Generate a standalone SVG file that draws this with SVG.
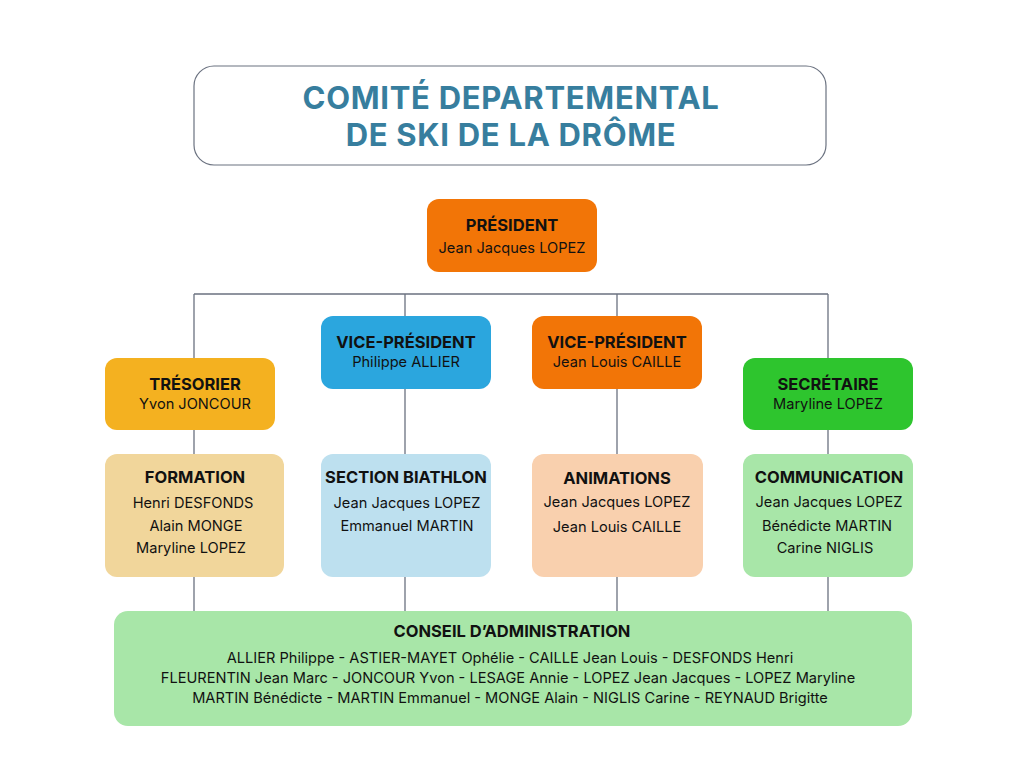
<svg xmlns="http://www.w3.org/2000/svg" width="1024" height="768" viewBox="0 0 1024 768">
<style>
.t{font-family:Inter,"Liberation Sans",sans-serif;fill:#111;text-anchor:middle}
.h{font-weight:700;font-size:16.5px}
.n{font-size:14.6px}
.ttl{font-family:Inter,"Liberation Sans",sans-serif;font-weight:700;font-size:31px;letter-spacing:0.7px;fill:#377e9e;text-anchor:middle}
.c{font-family:Inter,"Liberation Sans",sans-serif;fill:#111;text-anchor:middle;font-size:14.6px}
.ch{font-weight:700;font-size:16.5px}
.ln{stroke:#6b7280;stroke-width:1.3;fill:none}
</style>
<rect width="1024" height="768" fill="#fff"/>
<g id="title">
<rect x="194" y="66" width="632" height="99" rx="20" fill="#fff" stroke="#6b7280" stroke-width="1.2"/>
<text class="ttl" x="511" y="109">COMITÉ DEPARTEMENTAL</text>
<text class="ttl" x="511" y="146">DE SKI DE LA DRÔME</text>
</g>
<g id="connectors">
<path class="ln" d="M194 294H828M194 294V358M405 294V316M617 294V316M828 294V358M194 430V454M405 389V454M617 389V454M828 430V454M194 577V612M405 577V612M617 577V612M828 577V612"/>
</g>
<g id="president">
<rect x="427" y="199" width="170" height="73" rx="12" fill="#f27507"/>
<text class="t h" x="512" y="231">PRÉSIDENT</text>
<text class="t n" x="512" y="253">Jean Jacques LOPEZ</text>
</g>
<g id="tresorier">
<rect x="105" y="358" width="170" height="72" rx="12" fill="#f4b120"/>
<text class="t h" x="195" y="390">TRÉSORIER</text>
<text class="t n" x="195" y="409">Yvon JONCOUR</text>
</g>
<g id="vp1">
<rect x="321" y="316" width="170" height="73" rx="12" fill="#2ba6de"/>
<text class="t h" x="406" y="348">VICE-PRÉSIDENT</text>
<text class="t n" x="406" y="367">Philippe ALLIER</text>
</g>
<g id="vp2">
<rect x="532" y="316" width="170" height="73" rx="12" fill="#f27507"/>
<text class="t h" x="617" y="348">VICE-PRÉSIDENT</text>
<text class="t n" x="617" y="367">Jean Louis CAILLE</text>
</g>
<g id="secretaire">
<rect x="743" y="358" width="170" height="72" rx="12" fill="#2ec52e"/>
<text class="t h" x="828" y="390">SECRÉTAIRE</text>
<text class="t n" x="828" y="409">Maryline LOPEZ</text>
</g>
<g id="formation">
<rect x="105" y="454" width="179" height="123" rx="12" fill="#f1d69b"/>
<text class="t h" x="195" y="483">FORMATION</text>
<text class="t n" x="193" y="508">Henri DESFONDS</text>
<text class="t n" x="196" y="531">Alain MONGE</text>
<text class="t n" x="191" y="553">Maryline LOPEZ</text>
</g>
<g id="biathlon">
<rect x="321" y="454" width="170" height="123" rx="12" fill="#bde0ef"/>
<text class="t h" x="406" y="483">SECTION BIATHLON</text>
<text class="t n" x="407" y="508">Jean Jacques LOPEZ</text>
<text class="t n" x="407" y="531">Emmanuel MARTIN</text>
</g>
<g id="animations">
<rect x="532" y="454" width="171" height="123" rx="12" fill="#f9d0ae"/>
<text class="t h" x="617" y="484">ANIMATIONS</text>
<text class="t n" x="617" y="507">Jean Jacques LOPEZ</text>
<text class="t n" x="617" y="532">Jean Louis CAILLE</text>
</g>
<g id="communication">
<rect x="743" y="454" width="170" height="123" rx="12" fill="#a8e6a8"/>
<text class="t h" x="829" y="483">COMMUNICATION</text>
<text class="t n" x="829" y="507">Jean Jacques LOPEZ</text>
<text class="t n" x="827" y="531">Bénédicte MARTIN</text>
<text class="t n" x="825" y="553">Carine NIGLIS</text>
</g>
<g id="conseil">
<rect x="114" y="611" width="798" height="115" rx="14" fill="#a8e6a8"/>
<text class="c ch" x="512" y="637">CONSEIL D’ADMINISTRATION</text>
<text class="c" x="510" y="663">ALLIER Philippe - ASTIER-MAYET Ophélie - CAILLE Jean Louis - DESFONDS Henri</text>
<text class="c" x="508" y="683">FLEURENTIN Jean Marc - JONCOUR Yvon - LESAGE Annie - LOPEZ Jean Jacques - LOPEZ Maryline</text>
<text class="c" x="510" y="703">MARTIN Bénédicte - MARTIN Emmanuel - MONGE Alain - NIGLIS Carine - REYNAUD Brigitte</text>
</g>
</svg>
